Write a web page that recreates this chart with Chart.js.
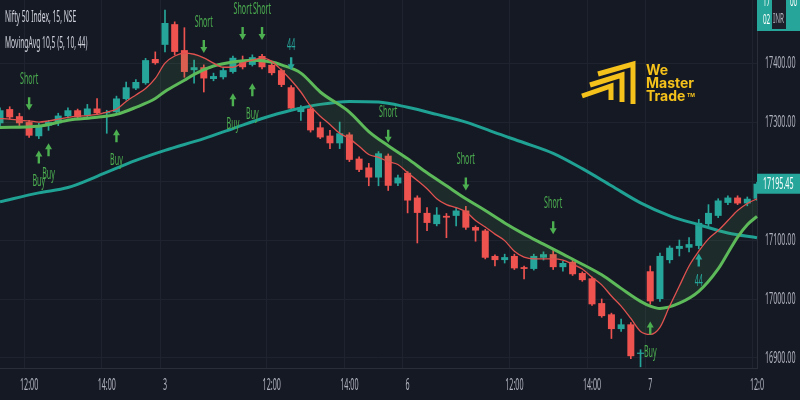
<!DOCTYPE html>
<html>
<head>
<meta charset="utf-8">
<script src="https://cdn.jsdelivr.net/npm/chart.js@4.4.0/dist/chart.umd.min.js"></script>
<style>
  html, body { margin: 0; padding: 0; background: #151924; }
  canvas { display: block; }
</style>
</head>
<body>
<canvas id="chart" width="800" height="400"></canvas>
<script>
// session times (15 min candles)
const day2Times = ['11:15','11:30','11:45','12:00','12:15','12:30','12:45','13:00','13:15','13:30','13:45','14:00','14:15','14:30','14:45','15:00','15:15'];
const sessionTimes = ['09:15','09:30','09:45','10:00','10:15','10:30','10:45','11:00','11:15','11:30','11:45','12:00','12:15','12:30','12:45','13:00','13:15','13:30','13:45','14:00','14:15','14:30','14:45','15:00','15:15'];
const day7Times = ['09:15','09:30','09:45','10:00','10:15','10:30','10:45','11:00','11:15','11:30','11:45','12:00'];
const times = [
  ...day2Times.map(t => '2 ' + t),
  ...sessionTimes.map(t => '3 ' + t),
  ...sessionTimes.map(t => '6 ' + t),
  ...day7Times.map(t => '7 ' + t)
];
const timeTicks = {
  '2 12:00': '12:00', '2 14:00': '14:00', '3 09:15': '3',
  '3 12:00': '12:00', '3 14:00': '14:00', '6 09:15': '6',
  '6 12:00': '12:00', '6 14:00': '14:00', '7 09:15': '7', '7 12:00': '12:0'
};
const priceTicks = [16900, 17000, 17100, 17200, 17300, 17400];

const open = [17298,17322,17310,17300,17276,17294,17298,17310,17320,17311,17323,17315,17317,17339,17357,17366,17407,
  17431,17466,17422,17388,17393,17373,17376,17385,17405,17397,17412,17397,17388,17359,17317,17323,17291,17277,17264,17279,17238,17223,17206,17243,17196,
  17214,17172,17146,17127,17141,17141,17150,17122,17116,17073,17066,17073,17054,17051,17070,17076,17054,17063,17044,17035,16993,16974,16949,16957,16907,
  17047,17000,17066,17085,17087,17090,17127,17141,17163,17172,17162,17170];
const high = [17324,17326,17315,17303,17298,17303,17315,17324,17322,17330,17340,17320,17344,17368,17372,17408,17419,
  17490,17470,17460,17405,17397,17383,17391,17412,17412,17414,17415,17400,17390,17362,17328,17326,17300,17286,17300,17282,17241,17230,17250,17246,17210,
  17216,17175,17155,17155,17145,17155,17157,17124,17118,17075,17076,17076,17056,17076,17080,17083,17064,17066,17046,17037,17000,16976,16966,16960,16914,
  17056,17078,17090,17100,17104,17135,17160,17170,17175,17175,17173,17198];
const low = [17294,17305,17294,17274,17272,17286,17294,17307,17305,17309,17313,17281,17315,17337,17355,17364,17398,
  17419,17414,17376,17366,17351,17370,17373,17383,17390,17395,17390,17380,17360,17320,17303,17283,17272,17255,17255,17233,17216,17192,17192,17184,17192,
  17146,17095,17116,17124,17104,17124,17118,17098,17068,17056,17061,17050,17034,17049,17066,17050,17047,17040,17030,16989,16969,16933,16945,16899,16885,
  16991,16996,17061,17073,17080,17085,17124,17138,17160,17160,17158,17167];
const close = [17320,17308,17298,17277,17294,17300,17311,17320,17308,17323,17315,17317,17340,17359,17368,17405,17400,
  17468,17419,17385,17393,17374,17378,17388,17409,17393,17410,17393,17383,17363,17323,17325,17286,17274,17264,17281,17236,17219,17206,17247,17192,17206,
  17167,17146,17129,17143,17138,17150,17121,17116,17070,17066,17071,17052,17051,17073,17076,17054,17061,17042,17032,16991,16971,16949,16957,16903,16909,
  16996,17073,17087,17090,17093,17129,17146,17167,17172,17162,17170,17195.45];

// moving averages
const ma5 = [17306,17305,17303,17302,17300,17302,17305,17308,17310,17311,17313,17317,17322,17335,17346,17357,17374,17400,17412,17417,
  17415,17409,17400,17393,17393,17400,17405,17409,17403,17388,17371,17351,17327,17310,17296,17281,17272,17259,17245,17240,
  17233,17228,17214,17201,17187,17170,17160,17155,17148,17133,17122,17110,17099,17081,17071,17068,17068,17068,17066,17059,
  17051,17037,17024,17005,16988,16967,16945,16940,16952,16988,17022,17056,17081,17102,17116,17133,17150,17162,17170];
const ma10Idx = [0,4,7,10,12,14,16,17,19,20,22,24,26,28,29,31,33,36,38,40,42,44,46,48,50,52,54,56,58,60,62,64,66,67,68,70,72,74,75,76,77,78];
const ma10 = [17291,17293,17303,17308,17313,17325,17340,17352,17371,17381,17395,17402,17405,17402,17397,17383,17351,17317,17284,17260,
  17238,17214,17192,17170,17150,17129,17110,17093,17076,17059,17041,17018,16996,16988,16984,16993,17013,17051,17078,17105,17126,17140];
const ma44Idx = [0,4,7,10,14,17,21,24,27,30,33,36,39,42,45,48,51,54,57,60,63,66,69,72,75,78];
const ma44 = [17165,17180,17189,17208,17235,17252,17272,17289,17306,17320,17330,17335,17334,17325,17313,17300,17282,17265,17247,17221,
  17192,17163,17141,17126,17112,17104];

// signals
const shortIdx = [3, 21, 25, 27, 40, 48, 57];
const shortAt = [17320, 17417, 17439, 17439, 17265, 17184, 17110];
const buyIdx = [4, 5, 12, 24, 26, 67];
const buyAt = [17252, 17264, 17288, 17349, 17366, 16962];
const exitDownIdx = [30];
const exitDownAt = [17388];
const exitUpIdx = [72];
const exitUpAt = [17077];

const UP = '#26a69a';
const DOWN = '#ef5350';
const SIGNAL = '#4caf50';
const candleColors = close.map((c, i) => c >= open[i] ? UP : DOWN);
const SQ = 0.42;

function sqText(ctx, txt, x, y, size, color, align) {
    ctx.save();
    ctx.font = size + 'px "Noto Sans", sans-serif';
    ctx.fillStyle = color;
    ctx.textBaseline = 'middle';
    ctx.textAlign = align || 'center';
    ctx.translate(x, y);
    ctx.scale(SQ, 1);
    ctx.fillText(txt, 0, 0);
    ctx.restore();
}

// dir 1: pointing down, tip at bottom; dir -1: pointing up
function arrow(ctx, x, tip, dir, color) {
    ctx.fillStyle = color;
    ctx.beginPath();
    ctx.moveTo(x, tip);
    ctx.lineTo(x - 3.5, tip - 6 * dir);
    ctx.lineTo(x - 1.2, tip - 6 * dir);
    ctx.lineTo(x - 1.2, tip - 13 * dir);
    ctx.lineTo(x + 1.2, tip - 13 * dir);
    ctx.lineTo(x + 1.2, tip - 6 * dir);
    ctx.lineTo(x + 3.5, tip - 6 * dir);
    ctx.closePath();
    ctx.fill();
}

const overlay = {
    id: 'overlay',
    afterDatasetsDraw(chart) {
        const ctx = chart.ctx;
        const xs = chart.scales.x, ys = chart.scales.y;
        ctx.save();
        shortIdx.forEach((k, j) => {
            const x = xs.getPixelForValue(k), tip = ys.getPixelForValue(shortAt[j]);
            arrow(ctx, x, tip, 1, SIGNAL);
            sqText(ctx, 'Short', x, tip - 31, 17, SIGNAL);
        });
        buyIdx.forEach((k, j) => {
            const x = xs.getPixelForValue(k), tip = ys.getPixelForValue(buyAt[j]);
            arrow(ctx, x, tip, -1, SIGNAL);
            sqText(ctx, 'Buy', x, tip + 31, 17, SIGNAL);
        });
        exitDownIdx.forEach((k, j) => {
            const x = xs.getPixelForValue(k), tip = ys.getPixelForValue(exitDownAt[j]);
            arrow(ctx, x, tip, 1, UP);
            sqText(ctx, '44', x, tip - 25, 17, UP);
        });
        exitUpIdx.forEach((k, j) => {
            const x = xs.getPixelForValue(k), tip = ys.getPixelForValue(exitUpAt[j]);
            arrow(ctx, x, tip, -1, UP);
            sqText(ctx, '44', x, tip + 28, 17, UP);
        });
        ctx.restore();
    },
    afterDraw(chart) {
        const ctx = chart.ctx;
        const xs = chart.scales.x, ys = chart.scales.y;
        const right = chart.chartArea.right;

        // price axis labels
        ys.ticks.forEach(t => {
            sqText(ctx, t.value.toFixed(2), right + 8, ys.getPixelForValue(t.value), 17, '#b2b5be', 'left');
        });
        // time axis labels
        xs.ticks.forEach(t => {
            const lbl = timeTicks[times[t.value]];
            if (lbl) sqText(ctx, lbl, xs.getPixelForValue(t.value), 385, 17, '#b2b5be');
        });

        // last price box
        const last = close[close.length - 1];
        const py = ys.getPixelForValue(last);
        ctx.fillStyle = UP;
        ctx.fillRect(right, py - 10, 800 - right, 20);
        sqText(ctx, last.toFixed(2), right + 6, py, 17, '#ffffff', 'left');

        // symbol price box (top, cut)
        ctx.fillStyle = UP;
        ctx.fillRect(right, 0, 800 - right, 31);
        sqText(ctx, '17', right + 6, 2, 15, '#ffffff', 'left');
        sqText(ctx, '02', right + 6, 20, 15, '#ffffff', 'left');
        ctx.fillStyle = '#1c1f29';
        ctx.fillRect(right + 15, 0, 14, 29);
        sqText(ctx, 'INR', right + 16, 19, 15, '#b2b5be', 'left');
        sqText(ctx, '00', right + 33, 2, 15, '#ffffff', 'left');

        // legend
        sqText(ctx, 'Nifty 50 Index, 15, NSE', 5, 17, 16, '#d1d4dc', 'left');
        sqText(ctx, 'MovingAvg 10,5 (5, 10, 44)', 5, 43, 16, '#d1d4dc', 'left');

        // logo
        const Y = '#f5c21b';
        ctx.save();
        ctx.strokeStyle = Y;
        ctx.fillStyle = Y;
        ctx.lineWidth = 5;
        ctx.lineJoin = 'miter';
        [[0, 0], [-11, 11], [-22, 22]].forEach(([dx, dy], k) => {
            ctx.beginPath();
            ctx.moveTo(598 + dx + k * 3, 74 + dy);
            ctx.lineTo(633 + dx, 64 + dy);
            ctx.lineTo(633 + dx, 104 - k * 2);
            ctx.stroke();
        });
        ctx.font = 'bold 14px Inter, "Noto Sans", sans-serif';
        ctx.textBaseline = 'alphabetic';
        ctx.textAlign = 'left';
        ctx.fillText('We', 646, 75);
        ctx.fillText('Master', 646, 88);
        ctx.fillText('Trade', 646, 101);
        ctx.font = 'bold 5px Inter, sans-serif';
        ctx.fillText('TM', 687, 97);
        ctx.restore();
    }
};

const ctx = document.getElementById('chart').getContext('2d');
const chart = new Chart(ctx, {
    type: 'bar',
    data: {
        labels: times,
        datasets: [
            {
                label: 'wick',
                data: high.map((h, i) => [low[i], h]),
                backgroundColor: candleColors,
                barThickness: 1,
                grouped: false,
                order: 4
            },
            {
                label: 'body',
                data: open.map((o, i) => [o, close[i]]),
                backgroundColor: candleColors,
                barPercentage: 0.72,
                categoryPercentage: 1,
                minBarLength: 1,
                grouped: false,
                order: 3
            },
            {
                type: 'line',
                label: 'MA 44',
                data: ma44Idx.map((k, j) => ({ x: times[k], y: ma44[j] })),
                borderColor: '#1fa193',
                borderWidth: 3,
                pointRadius: 0,
                cubicInterpolationMode: 'monotone',
                fill: false,
                order: 2
            },
            {
                type: 'line',
                label: 'MA 10',
                data: ma10Idx.map((k, j) => ({ x: times[k], y: ma10[j] })),
                borderColor: '#5dbb5a',
                borderWidth: 3,
                pointRadius: 0,
                cubicInterpolationMode: 'monotone',
                fill: false,
                order: 1
            },
            {
                type: 'line',
                label: 'MA 5',
                data: ma5,
                borderColor: '#e0524f',
                borderWidth: 1.3,
                pointRadius: 0,
                cubicInterpolationMode: 'monotone',
                fill: { target: 3, above: 'rgba(90, 170, 90, 0.13)', below: 'rgba(90, 170, 90, 0.13)' },
                order: 0
            }
        ]
    },
    options: {
        responsive: false,
        animation: false,
        layout: { padding: { left: -3, top: 0, right: 0, bottom: 0 } },
        plugins: {
            legend: { display: false },
            tooltip: { enabled: false }
        },
        scales: {
            x: {
                offset: false,
                grid: {
                    drawTicks: false,
                    color: c => (c.tick && timeTicks[times[c.tick.value]]) ? '#1f2330' : 'transparent'
                },
                border: { color: '#2a2e39' },
                ticks: { display: false },
                afterFit: s => { s.height = 32; }
            },
            y: {
                position: 'right',
                min: 16883,
                max: 17507,
                grid: { drawTicks: false, color: '#1f2330' },
                border: { color: '#2a2e39' },
                ticks: { display: false },
                afterBuildTicks: s => { s.ticks = priceTicks.map(v => ({ value: v })); },
                afterFit: s => { s.width = 43; }
            }
        }
    },
    plugins: [overlay]
});
</script>
</body>
</html>
